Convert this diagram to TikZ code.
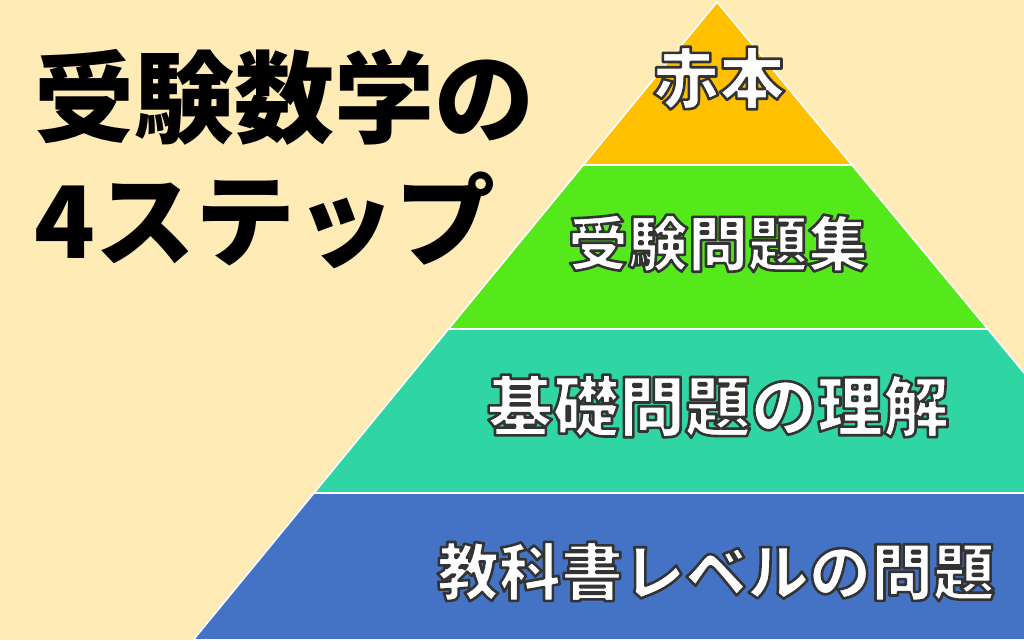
\documentclass[tikz,border=0pt]{standalone}
\usepackage{fontspec}
\usetikzlibrary{calc}
\newfontfamily\cjk{Noto Sans CJK JP}
\newfontfamily\cjkblack{Noto Sans CJK JP Black}
\definecolor{bgc}{HTML}{FFEBB6}
\definecolor{gold}{HTML}{FFC000}
\definecolor{lgreen}{HTML}{55E91B}
\definecolor{teal}{HTML}{2FD5A2}
\definecolor{blue}{HTML}{4472C4}
\definecolor{outl}{HTML}{333333}
\tikzset{
  layer/.style={draw=white, line width=1.6pt, line join=round},
  lbl/.style={inner sep=0pt, anchor=base, text=white, font=\cjk\bfseries\fontsize{#1}{#1}\selectfont},
  title/.style={inner sep=0pt, anchor=base west, font=\cjkblack\fontsize{100pt}{100pt}\selectfont, text=black}
}
\newcommand\outlinedtext[1]{%
  \special{pdf:literal direct 0.2 0.2 0.2 RG 2 Tr 2.6 w 1 j}#1\special{pdf:literal direct 0 Tr}}
\begin{document}
\begin{tikzpicture}[x=1pt,y=-1pt]
\useasboundingbox (0,0) rectangle (1024,640);
\clip (0,0) rectangle (1024,640);
\fill[bgc] (0,0) rectangle (1024,640);
\coordinate (apex) at (717,2);
\coordinate (l1) at (583.2,165); \coordinate (r1) at (852,165);
\coordinate (l2) at (448.5,329); \coordinate (r2) at (987.8,329);
\coordinate (l3) at (314,493);   \coordinate (r3) at (1123.5,493);
\coordinate (l4) at (193.2,640); \coordinate (r4) at (1245,640);
\filldraw[layer, fill=blue] (l3) -- (r3) -- (r4) -- (l4) -- cycle;
\filldraw[layer, fill=teal] (l2) -- (r2) -- (r3) -- (l3) -- cycle;
\filldraw[layer, fill=lgreen] (l1) -- (r1) -- (r2) -- (l2) -- cycle;
\filldraw[layer, fill=gold] (apex) -- (r1) -- (l1) -- cycle;
\node[title] (t1) at (34,135) {受験数学の};
\node[title] (t2) at (34,258) {4ステップ};
\node[lbl=66pt] (s4) at (719,103) {\outlinedtext{赤本}};
\node[lbl=60pt] (s3) at (718,266) {\outlinedtext{受験問題集}};
\node[lbl=66pt] (s2) at (718,431) {\outlinedtext{基礎問題の理解}};
\node[lbl=62pt] (s1) at (716,595) {\outlinedtext{教科書レベルの問題}};
\end{tikzpicture}
\end{document}
